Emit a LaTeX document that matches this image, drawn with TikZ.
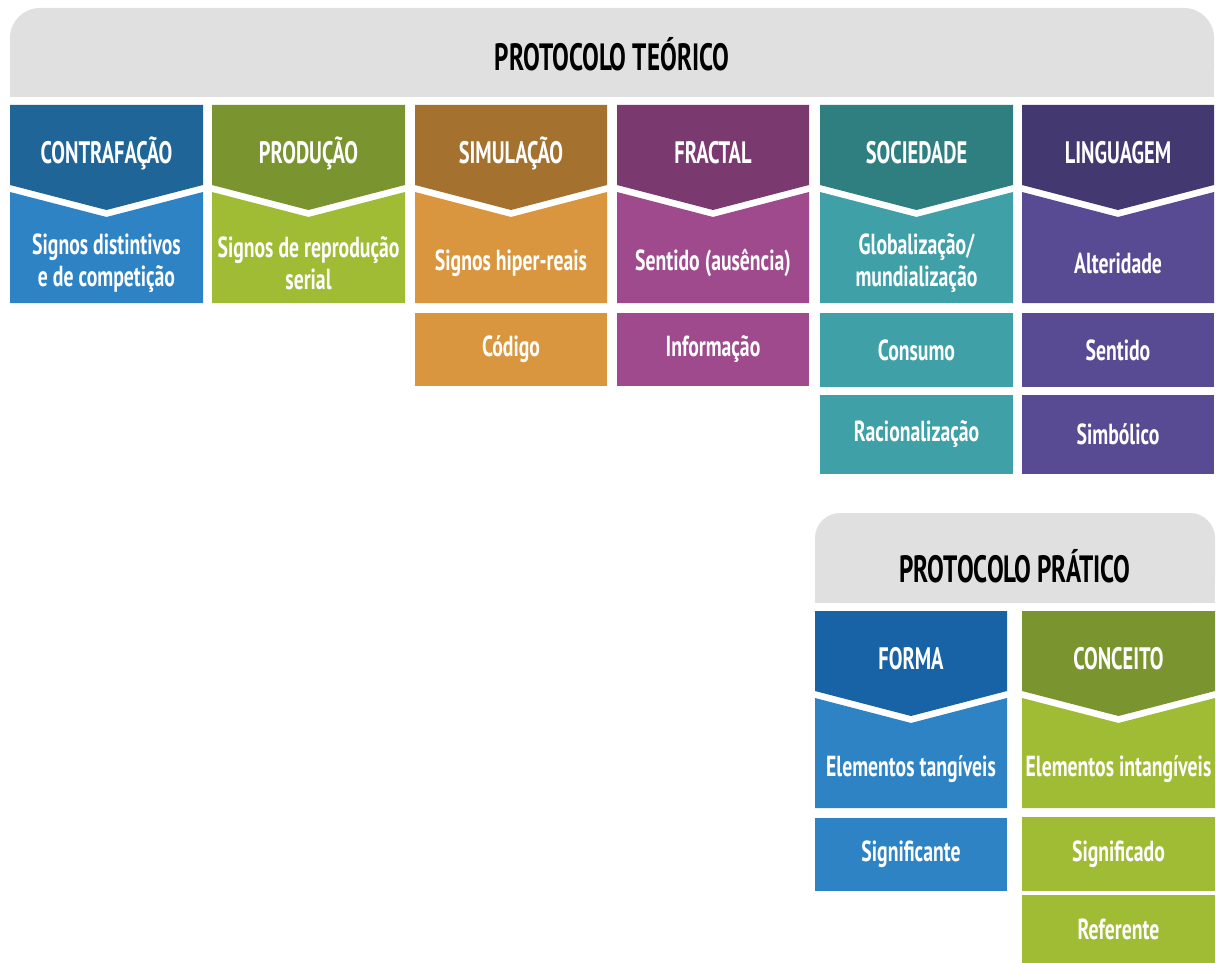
\documentclass[tikz,border=0pt]{standalone}
\usepackage{fontspec}
\newfontfamily\din[FakeStretch=0.66]{PT Sans}
\newfontfamily\dinb[FakeStretch=0.68]{PT Sans}
\definecolor{banner}{HTML}{E0E0E0}
\definecolor{cAd}{HTML}{1F6598}\definecolor{cAl}{HTML}{2E83C5}
\definecolor{cBd}{HTML}{7A9430}\definecolor{cBl}{HTML}{A0BC35}
\definecolor{cCd}{HTML}{A4712E}\definecolor{cCl}{HTML}{D9963E}
\definecolor{cDd}{HTML}{7A3A6F}\definecolor{cDl}{HTML}{A04A8E}
\definecolor{cEd}{HTML}{2F7F80}\definecolor{cEl}{HTML}{3FA0A8}
\definecolor{cFd}{HTML}{433870}\definecolor{cFl}{HTML}{584A93}
\definecolor{cGd}{HTML}{1763A6}\definecolor{cGl}{HTML}{2E83C5}
\tikzset{
  hdr/.style={text=white,font=\din\bfseries\fontsize{31}{33}\selectfont,align=center,inner sep=0pt},
  body/.style={text=white,font=\dinb\bfseries\fontsize{29}{32}\selectfont,align=center,inner sep=0pt},
  ttl/.style={text=black,font=\din\bfseries\fontsize{38}{40}\selectfont,inner sep=0pt},
  cell/.style={text=white,font=\dinb\bfseries\fontsize{29}{32}\selectfont,align=center,inner sep=0pt,minimum width=193pt},
}
% #1 name, #2 x0, #3 x1, #4 top, #5 light bottom, #6 dark, #7 light, #8 header, #9 body
\newcommand\chevcol[9]{%
  \pgfmathsetmacro\xm{(#2+#3)/2}%
  \fill[#7] (#2,#4+87) -- (\xm,#4+112) -- (#3,#4+87) -- (#3,#5) -- (#2,#5) -- cycle;
  \fill[#6] (#2,#4) -- (#3,#4) -- (#3,#4+80) -- (\xm,#4+105) -- (#2,#4+80) -- cycle;
  \node[hdr] (#1h) at (\xm,#4+48) {#8};
  \node[body] (#1b) at (\xm,#4+158) {#9};
}
\begin{document}
\begin{tikzpicture}[x=1pt,y=-1pt]
\useasboundingbox[fill=white] (0,0) rectangle (1216,963);
% main banner
\fill[banner,rounded corners=30pt] (10,8) rectangle (1214,97);
\fill[banner] (10,50) rectangle (1214,97);
\node[ttl] (teo) at (612,54) {PROTOCOLO TEÓRICO};
\chevcol{contra}{10}{203}{105}{303}{cAd}{cAl}{CONTRAFAÇÃO}{Signos distintivos\\e de competição}
\chevcol{prod}{212}{405}{105}{303}{cBd}{cBl}{PRODUÇÃO}{Signos de reprodução\\serial}
\chevcol{simu}{415}{607}{105}{303}{cCd}{cCl}{SIMULAÇÃO}{Signos hiper-reais}
\chevcol{fract}{617}{809}{105}{303}{cDd}{cDl}{FRACTAL}{Sentido (ausência)}
\chevcol{soc}{820}{1013}{105}{303}{cEd}{cEl}{SOCIEDADE}{Globalização/\\mundialização}
\chevcol{ling}{1022}{1214}{105}{303}{cFd}{cFl}{LINGUAGEM}{Alteridade}
% second and third rows
\node[cell,fill=cCl,minimum width=192pt,minimum height=73pt] (cod) at (511,349.5) {Código};
\node[cell,fill=cDl,minimum width=192pt,minimum height=73pt] (inf) at (713,349.5) {Informação};
\node[cell,fill=cEl,minimum height=74pt] (cons) at (916.5,350) {Consumo};
\node[cell,fill=cFl,minimum width=192pt,minimum height=74pt] (sent) at (1118,350) {Sentido};
\node[cell,fill=cEl,minimum height=79pt] (rac) at (916.5,434.5) {Racionalização};
\node[cell,fill=cFl,minimum width=192pt,minimum height=79pt] (simb) at (1118,434.5) {Simbólico};
% practical banner
\fill[banner,rounded corners=25pt] (815,513) rectangle (1215,603);
\fill[banner] (815,560) rectangle (1215,603);
\node[ttl] (prat) at (1015,566) {PROTOCOLO PRÁTICO};
\chevcol{forma}{815}{1007}{611}{808}{cGd}{cGl}{FORMA}{Elementos tangíveis}
\chevcol{conc}{1022}{1215}{611}{808}{cBd}{cBl}{CONCEITO}{Elementos intangíveis}
\node[cell,fill=cGl,minimum width=192pt,minimum height=73pt] (sigte) at (911,854.5) {Significante};
\node[cell,fill=cBl,minimum height=74pt] (sigdo) at (1118.5,854) {Significado};
\node[cell,fill=cBl,minimum height=68pt] (ref) at (1118.5,929) {Referente};
\end{tikzpicture}
\end{document}
